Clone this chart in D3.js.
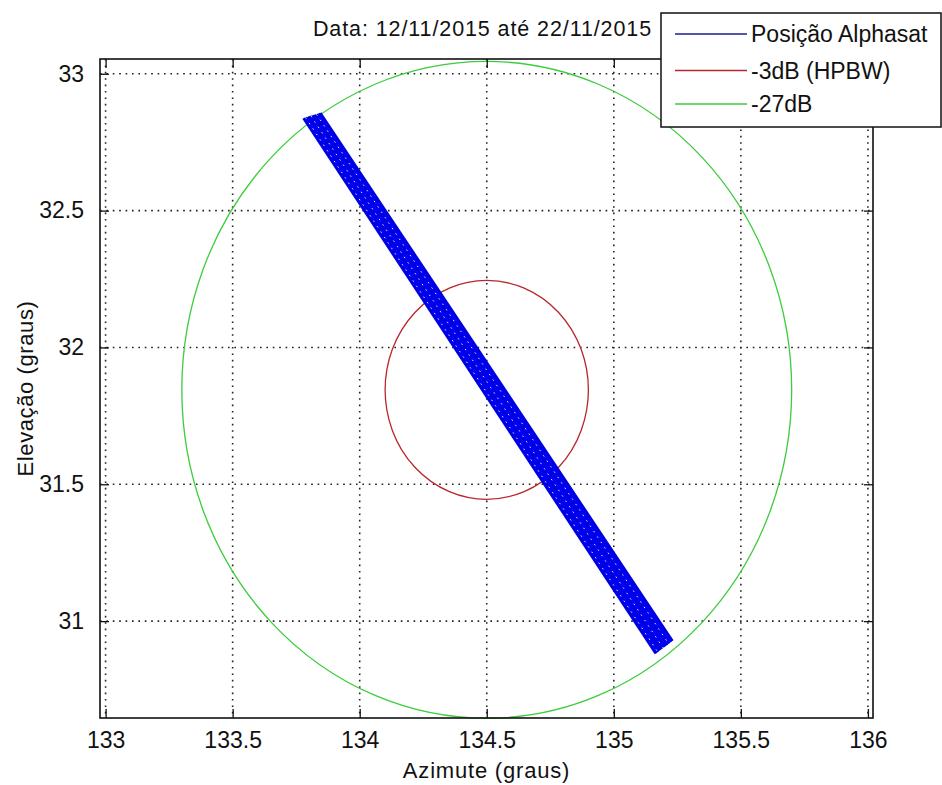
<!DOCTYPE html>
<html>
<head>
<meta charset="utf-8">
<script src="https://cdn.jsdelivr.net/npm/d3@7"></script>
<style>
  body { margin: 0; background: #fff; }
  text { font-family: "Liberation Sans", Arial, sans-serif; fill: #111; }
</style>
</head>
<body>
<div id="chart"></div>
<script>
//************* data ***************/
// daily passes of the satellite (start / end of each track)
var trackAz0 = [133.780, 133.787, 133.794, 133.801, 133.808, 133.816, 133.823, 133.830, 133.837, 133.844];
var trackEl0 = [32.838, 32.840, 32.842, 32.844, 32.846, 32.848, 32.850, 32.852, 32.854, 32.856];
var trackAz1 = [135.166, 135.173, 135.180, 135.187, 135.194, 135.202, 135.209, 135.216, 135.223, 135.230];
var trackEl1 = [30.882, 30.887, 30.892, 30.897, 30.902, 30.907, 30.912, 30.917, 30.922, 30.927];

// antenna beam contours
var beamCenter = {az: 134.5, el: 31.845};
var contourNames = ["-3dB (HPBW)", "-27dB"];
var contourRadius = [0.4, 1.2];

var xTicks = [133, 133.5, 134, 134.5, 135, 135.5, 136];
var yTicks = [31, 31.5, 32, 32.5, 33];
var legendNames = ["Posição Alphasat", "-3dB (HPBW)", "-27dB"];

//************* set dimensions ***************/
var W = 942, H = 785;
var margin = {left: 100, right: 69, top: 59, bottom: 67};
var width = W - margin.left - margin.right,
    height = H - margin.top - margin.bottom;

var svg = d3.select("#chart").append("svg")
    .attr("width", W)
    .attr("height", H);

var g = svg.append("g")
    .attr("transform", "translate(" + margin.left + "," + margin.top + ")");

//************* scales ***************/
var x = d3.scaleLinear().domain([132.978, 136.02]).range([0, width]);
var y = d3.scaleLinear().domain([30.646, 33.054]).range([height, 0]);

var color = {
  "Posição Alphasat": "#1c1c8c",
  "-3dB (HPBW)": "#b8262e",
  "-27dB": "#3ccc3c"
};

//************* grid ***************/
g.append("g").selectAll("line").data(xTicks).enter().append("line")
  .attr("x1", d => x(d)).attr("x2", d => x(d))
  .attr("y1", 0).attr("y2", height)
  .attr("stroke", "#222").attr("stroke-width", 1.6)
  .attr("stroke-dasharray", "1.6,4.8");

g.append("g").selectAll("line").data(yTicks).enter().append("line")
  .attr("y1", d => y(d)).attr("y2", d => y(d))
  .attr("x1", 0).attr("x2", width)
  .attr("stroke", "#222").attr("stroke-width", 1.6)
  .attr("stroke-dasharray", "1.6,4.8");

//************* contours ***************/
contourNames.forEach(function(name, i) {
  var r = contourRadius[i];
  g.append("ellipse")
    .attr("cx", x(beamCenter.az))
    .attr("cy", y(beamCenter.el))
    .attr("rx", x(beamCenter.az + r) - x(beamCenter.az))
    .attr("ry", y(beamCenter.el) - y(beamCenter.el + r))
    .attr("fill", "none")
    .attr("stroke", color[name])
    .attr("stroke-width", 1.3);
});

//************* tracks ***************/
var tracks = trackAz0.map(function(d, i) {
  return [[trackAz0[i], trackEl0[i]], [trackAz1[i], trackEl1[i]]];
});
var line = d3.line().x(d => x(d[0])).y(d => y(d[1]));

g.append("g").selectAll("path").data(tracks).enter().append("path")
  .attr("d", line)
  .attr("fill", "none")
  .attr("stroke", "#0000f0")
  .attr("stroke-width", 3.2);

// thin darker / lighter passes for texture
g.append("g").selectAll("path").data(tracks.filter((d, i) => i % 3 === 0)).enter().append("path")
  .attr("d", line)
  .attr("fill", "none")
  .attr("stroke", "#00006a")
  .attr("stroke-width", 0.8)
  .attr("stroke-dasharray", "2,3");

g.append("g").selectAll("path").data(tracks.filter((d, i) => i % 3 === 1)).enter().append("path")
  .attr("d", line)
  .attr("fill", "none")
  .attr("stroke", "#ffffff")
  .attr("stroke-width", 0.9)
  .attr("stroke-dasharray", "1.5,5");

//************* axes ***************/
var tickLen = 9;
var xAxisB = g.append("g").attr("transform", "translate(0," + height + ")")
  .call(d3.axisBottom(x).tickValues(xTicks).tickSizeInner(-tickLen).tickSizeOuter(0).tickPadding(14).tickFormat(d3.format("")));
var xAxisT = g.append("g")
  .call(d3.axisTop(x).tickValues(xTicks).tickSizeInner(-tickLen).tickSizeOuter(0).tickFormat(""));
var yAxisL = g.append("g")
  .call(d3.axisLeft(y).tickValues(yTicks).tickSizeInner(-tickLen).tickSizeOuter(0).tickPadding(16).tickFormat(d3.format("")));
var yAxisR = g.append("g").attr("transform", "translate(" + width + ",0)")
  .call(d3.axisRight(y).tickValues(yTicks).tickSizeInner(-tickLen).tickSizeOuter(0).tickFormat(""));

[xAxisB, xAxisT, yAxisL, yAxisR].forEach(function(a) {
  a.select(".domain").remove();
  a.selectAll(".tick line").attr("stroke", "#111").attr("stroke-width", 1.3);
  a.selectAll("text").attr("font-size", "23px").attr("fill", "#111")
    .style("font-family", "'Liberation Sans', Arial, sans-serif");
});

// box
g.append("rect")
  .attr("width", width).attr("height", height)
  .attr("fill", "none").attr("stroke", "#111").attr("stroke-width", 1.6);

//************* labels ***************/
svg.append("text")
  .attr("x", margin.left + width / 2 - 4)
  .attr("y", 36)
  .attr("text-anchor", "middle")
  .attr("font-size", "21.5px")
  .attr("letter-spacing", "0.9px")
  .text("Data: 12/11/2015 até 22/11/2015");

svg.append("text")
  .attr("x", margin.left + width / 2)
  .attr("y", 778)
  .attr("text-anchor", "middle")
  .attr("font-size", "22px")
  .attr("letter-spacing", "0.8px")
  .text("Azimute (graus)");

svg.append("text")
  .attr("transform", "translate(33," + (margin.top + height / 2) + ") rotate(-90)")
  .attr("text-anchor", "middle")
  .attr("font-size", "22px")
  .attr("letter-spacing", "0.6px")
  .text("Elevação (graus)");

//************* legend ***************/
var legend = svg.append("g").attr("transform", "translate(661,13)");
legend.append("rect")
  .attr("width", 280).attr("height", 114)
  .attr("fill", "#fff").attr("stroke", "#111").attr("stroke-width", 1.5);

var rowY = [21, 57.5, 91];
legendNames.forEach(function(name, i) {
  var row = legend.append("g").attr("transform", "translate(0," + rowY[i] + ")");
  row.append("line")
    .attr("x1", 14).attr("x2", 86)
    .attr("stroke", color[name]).attr("stroke-width", 1.4);
  row.append("text")
    .attr("x", 90).attr("y", 8)
    .attr("font-size", "23px")
    .text(name);
});
</script>
</body>
</html>
